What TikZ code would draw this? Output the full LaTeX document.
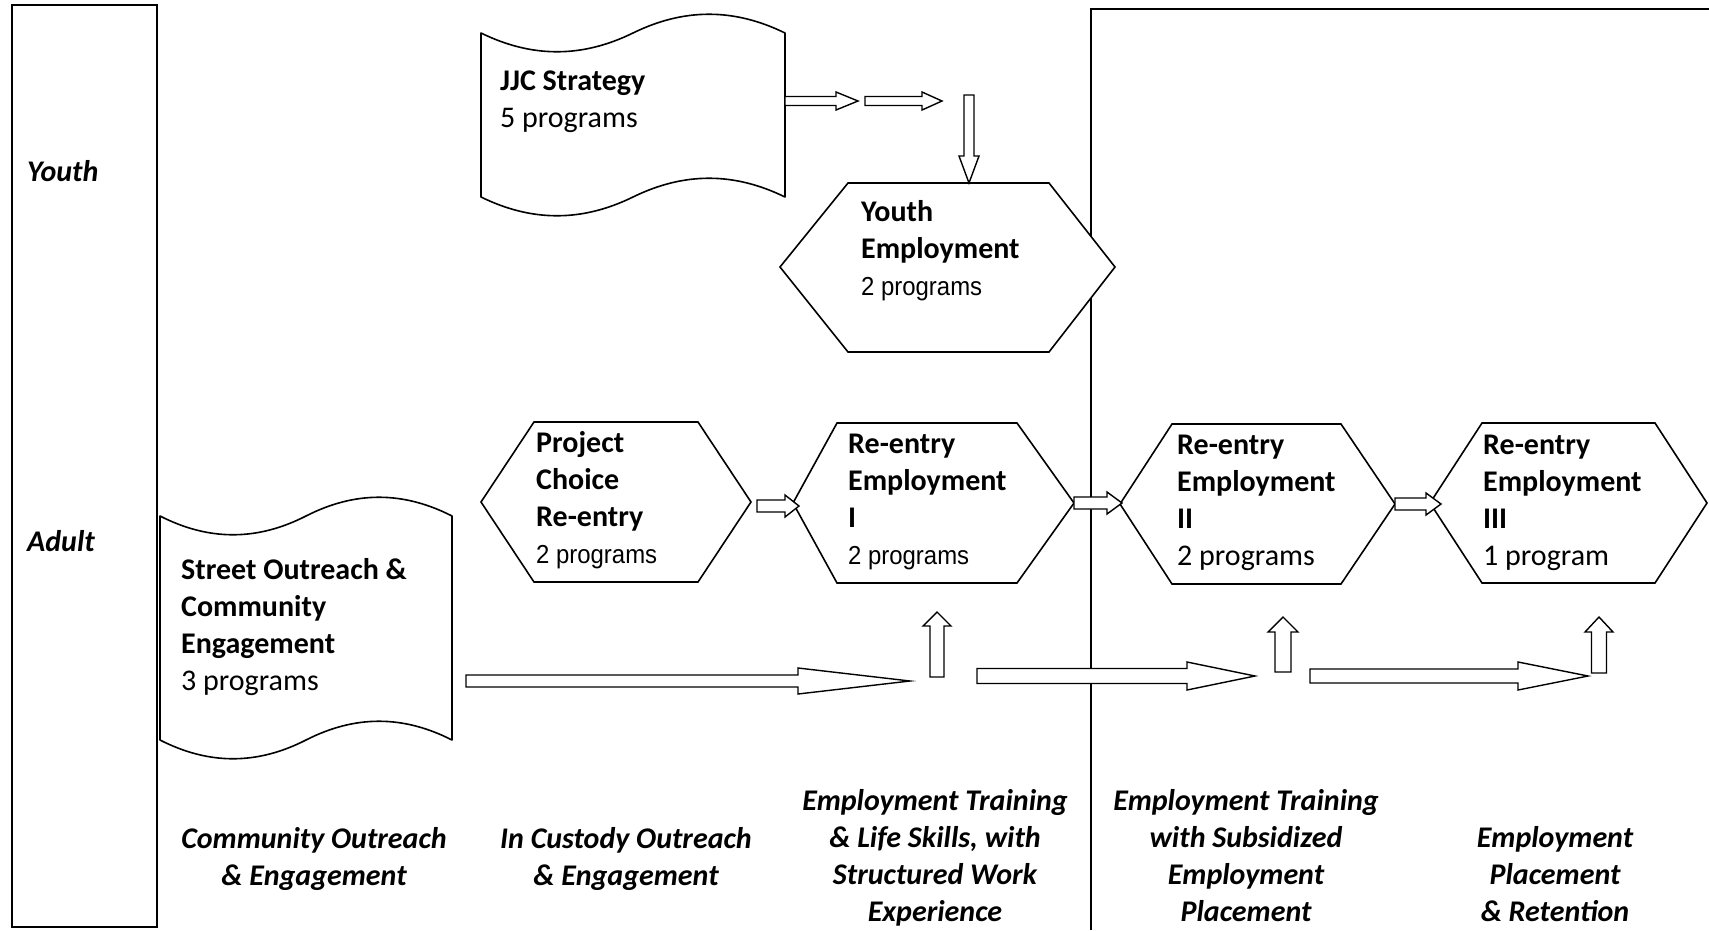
\documentclass[tikz,border=0pt]{standalone}
\usepackage{fontspec}
\setmainfont{Carlito}
\newfontfamily\narrowfont{Liberation Sans}[FakeStretch=0.92]
\usetikzlibrary{calc}
\newcommand\nprog[1]{{\narrowfont\fontsize{26}{37}\selectfont #1}}
\tikzset{
  hexbox/.style={draw=black, line width=1.6pt, fill=white, line join=miter},
  tapebox/.style={draw=black, line width=1.6pt, fill=white, line join=round},
  blk/.style={draw=black, line width=1.4pt, fill=white, line join=miter},
  framebox/.style={draw=black, line width=2.2pt},
  regionline/.style={draw=black, line width=1.1pt},
  txt/.style={inner sep=0pt, anchor=base west, align=left, font=\fontsize{30}{37}\selectfont},
  lbl/.style={inner sep=0pt, anchor=base, align=center, font=\fontsize{30}{37}\selectfont\bfseries\itshape},
  side/.style={inner sep=0pt, anchor=base west, font=\fontsize{30}{37}\selectfont\bfseries\itshape}
}
% horizontal block arrow: start, tip, shaft half, head half, head length
\newcommand\harr[5]{\draw[blk] let \p1=(#1), \p2=(#2) in
  (\x1,{\y1+#3pt}) -- ({\x2-#5pt},{\y1+#3pt}) -- ({\x2-#5pt},{\y1+#4pt}) -- (\x2,\y1)
  -- ({\x2-#5pt},{\y1-#4pt}) -- ({\x2-#5pt},{\y1-#3pt}) -- (\x1,{\y1-#3pt}) -- cycle;}
% vertical block arrow: start, tip, shaft half, head half, head length
\newcommand\varr[5]{\draw[blk] let \p1=(#1), \p2=(#2), \n1={sign(\y2-\y1)} in
  ({\x1-#3pt},\y1) -- ({\x1-#3pt},{\y2-\n1*#5pt}) -- ({\x1-#4pt},{\y2-\n1*#5pt}) -- (\x1,\y2)
  -- ({\x1+#4pt},{\y2-\n1*#5pt}) -- ({\x1+#3pt},{\y2-\n1*#5pt}) -- ({\x1+#3pt},\y1) -- cycle;}
\begin{document}
\begin{tikzpicture}[x=1pt,y=-1pt]
\useasboundingbox (0,0) rectangle (1709,930);
\fill[white] (0,0) rectangle (1709,930);

% frames
\draw[framebox] (12,5) rectangle (157,927);
\draw[regionline] (1091,930) -- (1091,9) -- (1709,9);
\node[side] (youth) at (27,181) {Youth};
\node[side] (adult) at (27,551) {Adult};

% JJC Strategy tape
\draw[tapebox] (481,33) .. controls (532,58) and (582,58) .. (633,33)
  .. controls (684,8) and (734,8) .. (785,33) coordinate (jjcTR)
  -- (785,197) .. controls (734,172) and (684,172) .. (633,197)
  .. controls (582,222) and (532,222) .. (481,197) -- cycle;

% Street Outreach tape
\draw[tapebox] (160,516) .. controls (209,541) and (257,541) .. (306,516)
  .. controls (355,491) and (403,491) .. (452,516)
  -- (452,740) .. controls (403,715) and (355,715) .. (306,740)
  .. controls (257,765) and (209,765) .. (160,740) -- cycle;

% Youth Employment
\draw[hexbox] (780,267) coordinate (yeL) -- (848,183) -- (969,183) coordinate (yeT) -- (1049,183) -- (1115,267) coordinate (yeR)
  -- (1049,352) -- (848,352) -- cycle;

% Project Choice
\draw[hexbox] (481,502) coordinate (pcL) -- (534,422) -- (698,422) -- (751,502) coordinate (pcR)
  -- (698,582) -- (534,582) -- cycle;

% Re-entry I
\draw[hexbox] (793,503) coordinate (r1L) -- (837,423) -- (1017,423) -- (1074,503) coordinate (r1R)
  -- (1017,583) -- (837,583) -- cycle;

% Re-entry II
\draw[hexbox] (1120,504) coordinate (r2L) -- (1172,424) -- (1341,424) -- (1395,504) coordinate (r2R)
  -- (1341,584) -- (1172,584) -- cycle;

% Re-entry III
\draw[hexbox] (1430,503) coordinate (r3L) -- (1482,423) -- (1655,423) -- (1707,503) coordinate (r3R)
  -- (1655,583) -- (1482,583) -- cycle;

% top arrows
\coordinate (a1s) at (785,101);
\coordinate (a1t) at (858,101);
\coordinate (a2s) at (865,101);
\coordinate (a2t) at (942,101);
\coordinate (dns) at (969,95);
\harr{a1s}{a1t}{4.5}{9}{22}
\harr{a2s}{a2t}{4.5}{9}{20}
\varr{dns}{yeT}{5}{10}{27}

% arrows between hexagons
\coordinate (h1s) at (757,506);
\coordinate (h1t) at (799,506);
\coordinate (h2t) at (1122,504);
\coordinate (h3t) at (1441,502);
\harr{h1s}{h1t}{6}{11}{14}
\harr{r1R}{h2t}{6}{11}{15}
\harr{r2R}{h3t}{6}{11}{15}

% bottom arrows
\coordinate (b1s) at (466,681);
\coordinate (b1t) at (910,681);
\coordinate (b2s) at (977,676);
\coordinate (b2t) at (1255,676);
\coordinate (b3s) at (1310,676);
\coordinate (b3t) at (1588,676);
\harr{b1s}{b1t}{6}{13}{112}
\harr{b2s}{b2t}{7.5}{14}{68}
\harr{b3s}{b3t}{7}{14}{70}

% up arrows
\coordinate (u1s) at (937,677);
\coordinate (u1t) at (937,612);
\coordinate (u2s) at (1283,672);
\coordinate (u2t) at (1283,617);
\coordinate (u3s) at (1599,673);
\coordinate (u3t) at (1599,617);
\varr{u1s}{u1t}{7}{14}{14}
\varr{u2s}{u2t}{8}{15}{15}
\varr{u3s}{u3t}{7.5}{14}{15}

% texts (anchor base = baseline of last line)
\node[txt] (jjc) at (500,127) {\bfseries JJC Strategy\\5 programs};
\node[txt] (so) at (181,690) {\bfseries Street Outreach \&\\\bfseries Community\\\bfseries Engagement\\3 programs};
\node[txt] (ye) at (861,295) {\bfseries Youth\\\bfseries Employment\\\nprog{2 programs}};
\node[txt] (pc) at (536,563) {\bfseries Project\\\bfseries Choice\\\bfseries Re-entry\\\nprog{2 programs}};
\node[txt] (r1) at (848,564) {\bfseries Re-entry\\\bfseries Employment\\\bfseries I\\\nprog{2 programs}};
\node[txt] (r2) at (1177,565) {\bfseries Re-entry\\\bfseries Employment\\\bfseries II\\2 programs};
\node[txt] (r3) at (1483,565) {\bfseries Re-entry\\\bfseries Employment\\\bfseries III\\1 program};

% bottom labels
\node[lbl] (c1) at (314,885) {Community Outreach\\\& Engagement};
\node[lbl] (c2) at (626,885) {In Custody Outreach\\\& Engagement};
\node[lbl] (c3) at (935,921) {Employment Training\\\& Life Skills, with\\Structured Work\\Experience};
\node[lbl] (c4) at (1246,921) {Employment Training\\with Subsidized\\Employment\\Placement};
\node[lbl] (c5) at (1555,921) {Employment\\Placement\\\& Retention};
\end{tikzpicture}
\end{document}
